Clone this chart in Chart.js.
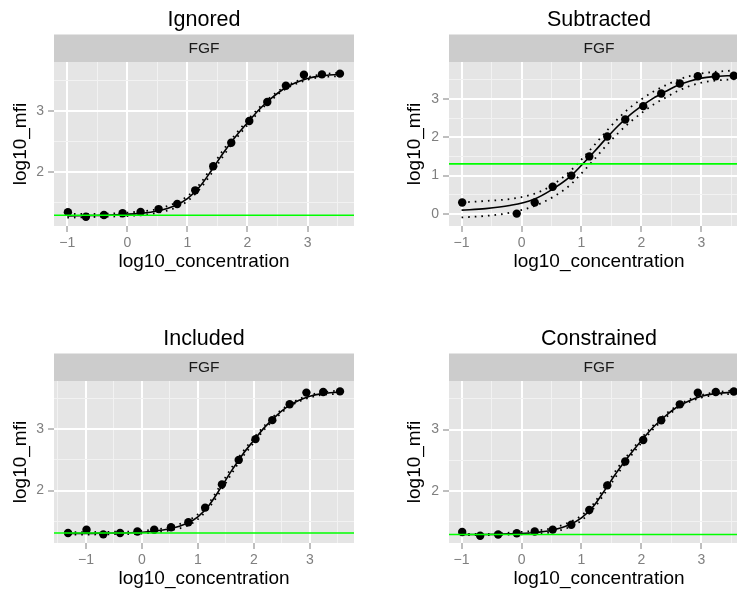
<!DOCTYPE html>
<html><head><meta charset="utf-8">
<script src="https://cdn.jsdelivr.net/npm/chart.js@4.4.1/dist/chart.umd.min.js"></script>
<style>
html,body{margin:0;padding:0;background:#fff;overflow:hidden;width:737px;height:592px;}
#wrap{position:relative;width:737px;height:592px;overflow:hidden;background:#fff;}
canvas{position:absolute;}
</style></head><body><div id="wrap">
<canvas id="c1" width="368" height="280" style="left:0;top:0"></canvas>
<canvas id="c2" width="395" height="280" style="left:368px;top:0"></canvas>
<canvas id="c3" width="368" height="278" style="left:0;top:319px"></canvas>
<canvas id="c4" width="395" height="278" style="left:368px;top:319px"></canvas>
</div>
<script>
// ---- text ----
const stripLabel = 'FGF';
const panelTitles = ['Ignored', 'Subtracted', 'Included', 'Constrained'];
const xTitle = 'log10_concentration';
const yTitle = 'log10_mfi';

// ---- observed points ----
const concIgnored = [-0.99, -0.69, -0.39, -0.08, 0.22, 0.52, 0.83, 1.13, 1.43, 1.73, 2.03, 2.33, 2.64, 2.94, 3.24, 3.54];
const mfiIgnored = [1.35, 1.276, 1.303, 1.331, 1.352, 1.40, 1.483, 1.706, 2.10, 2.483, 2.837, 3.147, 3.413, 3.592, 3.598, 3.61];
const concSubtracted = [-0.99, -0.08, 0.22, 0.52, 0.83, 1.13, 1.43, 1.73, 2.03, 2.33, 2.64, 2.94, 3.24, 3.54];
const mfiSubtracted = [0.30, 0.01, 0.30, 0.71, 1.00, 1.50, 2.02, 2.46, 2.81, 3.14, 3.40, 3.59, 3.59, 3.60];
const concIncluded = [-1.32, -0.99, -0.69, -0.39, -0.08, 0.22, 0.52, 0.83, 1.13, 1.43, 1.73, 2.03, 2.33, 2.64, 2.94, 3.24, 3.54];
const mfiIncluded = [1.305, 1.359, 1.283, 1.305, 1.33, 1.359, 1.40, 1.48, 1.72, 2.10, 2.50, 2.84, 3.15, 3.41, 3.60, 3.61, 3.62];
const concConstrained = [-0.99, -0.69, -0.39, -0.08, 0.22, 0.52, 0.83, 1.13, 1.43, 1.73, 2.03, 2.33, 2.64, 2.94, 3.24, 3.54];
const mfiConstrained = [1.33, 1.27, 1.29, 1.31, 1.34, 1.37, 1.45, 1.69, 2.09, 2.48, 2.83, 3.15, 3.41, 3.60, 3.61, 3.62];

// ---- fitted curves and dotted bands ----
const fitX = [-1.0, -0.6, -0.2, 0.2, 0.5, 0.8, 1.0, 1.2, 1.4, 1.6, 1.8, 2.0, 2.2, 2.4, 2.6, 2.8, 3.0, 3.2, 3.55];
const fitIgnored = [1.29, 1.295, 1.305, 1.33, 1.37, 1.46, 1.57, 1.76, 2.03, 2.32, 2.58, 2.81, 3.03, 3.21, 3.36, 3.46, 3.53, 3.57, 3.60];
const upperIgnored = [1.32, 1.32, 1.33, 1.36, 1.40, 1.50, 1.61, 1.80, 2.08, 2.37, 2.62, 2.85, 3.06, 3.24, 3.38, 3.48, 3.55, 3.59, 3.63];
const lowerIgnored = [1.26, 1.27, 1.28, 1.30, 1.34, 1.42, 1.53, 1.72, 1.98, 2.27, 2.54, 2.77, 3.00, 3.18, 3.34, 3.44, 3.51, 3.55, 3.57];

const fitSubtracted = [0.10, 0.14, 0.22, 0.38, 0.63, 0.96, 1.27, 1.60, 1.95, 2.28, 2.57, 2.81, 3.02, 3.19, 3.35, 3.46, 3.54, 3.58, 3.61];
const upperSubtracted = [0.30, 0.34, 0.39, 0.52, 0.74, 1.10, 1.42, 1.77, 2.13, 2.47, 2.76, 2.99, 3.19, 3.35, 3.49, 3.59, 3.66, 3.70, 3.74];
const lowerSubtracted = [-0.09, -0.05, 0.03, 0.20, 0.42, 0.74, 1.06, 1.40, 1.76, 2.09, 2.38, 2.63, 2.85, 3.03, 3.20, 3.33, 3.42, 3.47, 3.51];

const fitXIncluded = [-1.32, -1.0, -0.6, -0.2, 0.2, 0.5, 0.8, 1.0, 1.2, 1.4, 1.6, 1.8, 2.0, 2.2, 2.4, 2.6, 2.8, 3.0, 3.2, 3.55];
const fitIncluded = [1.30, 1.30, 1.305, 1.31, 1.335, 1.375, 1.46, 1.57, 1.76, 2.03, 2.32, 2.59, 2.82, 3.04, 3.22, 3.37, 3.47, 3.54, 3.58, 3.61];
const upperIncluded = [1.32, 1.32, 1.325, 1.33, 1.36, 1.40, 1.50, 1.61, 1.80, 2.08, 2.37, 2.63, 2.86, 3.07, 3.25, 3.39, 3.49, 3.56, 3.60, 3.64];
const lowerIncluded = [1.28, 1.28, 1.285, 1.29, 1.31, 1.35, 1.42, 1.53, 1.72, 1.98, 2.27, 2.55, 2.78, 3.01, 3.19, 3.35, 3.45, 3.52, 3.56, 3.58];

const fitConstrained = [1.29, 1.29, 1.30, 1.32, 1.36, 1.45, 1.56, 1.75, 2.03, 2.32, 2.58, 2.82, 3.04, 3.22, 3.37, 3.47, 3.54, 3.58, 3.61];
const upperConstrained = [1.30, 1.30, 1.32, 1.35, 1.39, 1.49, 1.60, 1.79, 2.08, 2.37, 2.62, 2.86, 3.07, 3.25, 3.39, 3.49, 3.56, 3.60, 3.64];
const lowerConstrained = [1.28, 1.28, 1.29, 1.30, 1.33, 1.41, 1.52, 1.71, 1.98, 2.27, 2.54, 2.78, 3.01, 3.19, 3.35, 3.45, 3.52, 3.56, 3.58];

// ---- background threshold (green line) ----
const thresholds = [1.30, 1.305, 1.305, 1.29];

// ---- axis limits ----
const xLimIgnored = [-1.222, 3.774], yLimIgnored = [1.124, 3.80];
const xLimSubtracted = [-1.21, 3.794], yLimSubtracted = [-0.313, 3.96];
const xLimIncluded = [-1.571, 3.79], yLimIncluded = [1.142, 3.79];
const xLimConstrained = [-1.21, 3.794], yLimConstrained = [1.152, 3.79];

// ---- rendering ----
const FONT = '"Liberation Sans", Arial, Helvetica, sans-serif';
const STRIP_H = 27.5;
const isMajor = v => Math.abs(v - Math.round(v)) < 1e-6;
const fmt = v => isMajor(v) ? (Math.round(v) < 0 ? '\u2212' + Math.abs(Math.round(v)) : String(Math.round(v))) : '';

const panelBg = {
  id: 'panelBg',
  beforeDraw(chart, args, opts) {
    const {ctx, chartArea: a} = chart;
    ctx.save();
    ctx.fillStyle = '#E5E5E5';
    ctx.fillRect(a.left, a.top, a.right - a.left, a.bottom - a.top);
    ctx.fillStyle = '#CCCCCC';
    ctx.fillRect(a.left, a.top - STRIP_H, a.right - a.left, STRIP_H);
    ctx.fillStyle = '#1A1A1A';
    ctx.font = '15.5px ' + FONT;
    ctx.textAlign = 'center';
    ctx.textBaseline = 'middle';
    ctx.fillText(opts.label, (a.left + a.right) / 2, a.top - STRIP_H / 2 + 0.5);
    ctx.restore();
  }
};

function axis(lim, which, cfg) {
  const horiz = which === 'x';
  return {
    type: 'linear', min: lim[0], max: lim[1],
    afterFit: s => { if (horiz) s.height = 54; else s.width = cfg.yw; },
    border: {display: false},
    grid: {
      color: c => isMajor(c.tick.value) ? '#FFFFFF' : '#F2F2F2',
      lineWidth: c => isMajor(c.tick.value) ? 2 : 1,
      tickColor: c => isMajor(c.tick.value) ? '#7F7F7F' : 'rgba(0,0,0,0)',
      tickLength: 6, tickWidth: 1
    },
    ticks: {
      stepSize: 0.5, includeBounds: false, maxTicksLimit: 40, autoSkip: false,
      maxRotation: 0, minRotation: 0, padding: horiz ? 3 : 4,
      color: '#7F7F7F', font: {family: FONT, size: 14}, callback: fmt
    },
    title: {
      display: true, text: horiz ? xTitle : yTitle, color: '#000',
      font: {family: FONT, size: 19},
      padding: horiz ? {top: 0, bottom: 6.6} : {top: cfg.ytp, bottom: 0}
    }
  };
}

function makePanel(id, cfg) {
  const mk = (x, y) => x.map((v, i) => ({x: v, y: y[i]}));
  const line = {showLine: true, pointRadius: 0, borderWidth: 1.6, borderColor: '#000',
                cubicInterpolationMode: 'monotone', fill: false};
  new Chart(document.getElementById(id), {
    type: 'scatter',
    data: { datasets: [
      {data: [{x: cfg.xlim[0], y: cfg.thr}, {x: cfg.xlim[1], y: cfg.thr}], showLine: true,
       pointRadius: 0, borderWidth: 1.6, borderColor: '#00FF00', order: 0},
      {data: mk(cfg.px, cfg.py), pointRadius: 4.2, backgroundColor: '#000', borderWidth: 0, order: 1},
      Object.assign({data: mk(cfg.fx, cfg.fy), order: 2}, line),
      Object.assign({data: mk(cfg.fx, cfg.up), order: 3, borderDash: [1.6, 5]}, line, {borderWidth: 1.8}),
      Object.assign({data: mk(cfg.fx, cfg.lo), order: 3, borderDash: [1.6, 5]}, line, {borderWidth: 1.8})
    ]},
    options: {
      responsive: false, animation: false, events: [],
      layout: {padding: {top: 0, left: 0, right: 14, bottom: 0}},
      plugins: {
        legend: {display: false}, tooltip: {enabled: false},
        title: {display: true, text: cfg.title, fullSize: false, color: '#000',
                font: {family: FONT, size: 21.5, weight: 'normal'}, padding: {top: 7, bottom: 29.2}},
        panelBg: {label: stripLabel}
      },
      scales: { x: axis(cfg.xlim, 'x', cfg), y: axis(cfg.ylim, 'y', cfg) }
    },
    plugins: [panelBg]
  });
}

makePanel('c1', {title: panelTitles[0], xlim: xLimIgnored, ylim: yLimIgnored, thr: thresholds[0],
  px: concIgnored, py: mfiIgnored, fx: fitX, fy: fitIgnored, up: upperIgnored, lo: lowerIgnored, yw: 54, ytp: 9.4});
makePanel('c2', {title: panelTitles[1], xlim: xLimSubtracted, ylim: yLimSubtracted, thr: thresholds[1],
  px: concSubtracted, py: mfiSubtracted, fx: fitX, fy: fitSubtracted, up: upperSubtracted, lo: lowerSubtracted, yw: 81, ytp: 35.8});
makePanel('c3', {title: panelTitles[2], xlim: xLimIncluded, ylim: yLimIncluded, thr: thresholds[2],
  px: concIncluded, py: mfiIncluded, fx: fitXIncluded, fy: fitIncluded, up: upperIncluded, lo: lowerIncluded, yw: 54, ytp: 9.4});
makePanel('c4', {title: panelTitles[3], xlim: xLimConstrained, ylim: yLimConstrained, thr: thresholds[3],
  px: concConstrained, py: mfiConstrained, fx: fitX, fy: fitConstrained, up: upperConstrained, lo: lowerConstrained, yw: 81, ytp: 35.8});
</script>
</body></html>
